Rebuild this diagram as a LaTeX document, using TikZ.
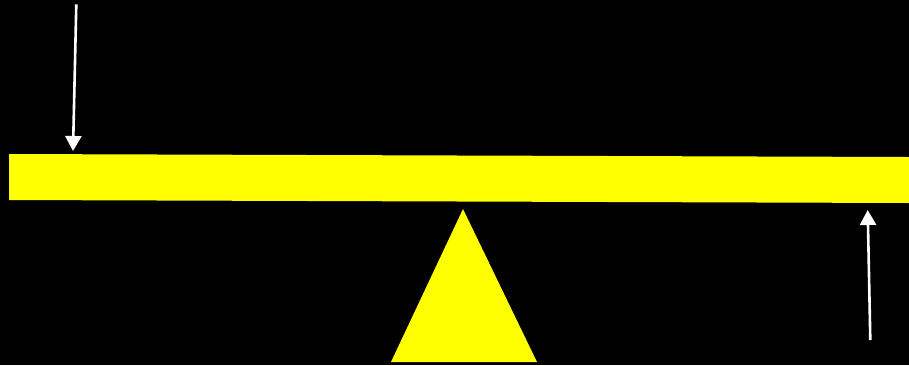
\documentclass[tikz,border=0pt]{standalone}
\usepackage{xcolor}
\usepackage{tikz}
\usetikzlibrary{arrows.meta}
\definecolor{leveryellow}{HTML}{FFFF00}
\tikzset{
  beam/.style={fill=leveryellow,draw=none},
  fulcrum/.style={fill=leveryellow,draw=none},
  force/.style={-{Triangle[width=16pt,length=15pt]},line width=2.6pt,draw=white}
}
\begin{document}
\begin{tikzpicture}[x=1pt,y=-1pt]
\fill[black] (0,0) rectangle (909,365);
\useasboundingbox (0,0) rectangle (909,365);
% lever and pivot
\fill[beam] (9,154) -- (909,157) -- (909,203) -- (9,200) -- cycle;
\fill[fulcrum] (463,209) -- (537,362) -- (391,362) -- cycle;
% forces
\coordinate (pushtop) at (76.3,4.3);
\coordinate (pushend) at (73,151);
\coordinate (liftbot) at (870.3,340);
\coordinate (liftend) at (867.7,210);
\draw[force] (pushtop) -- (pushend);
\draw[force] (liftbot) -- (liftend);
\end{tikzpicture}
\end{document}
